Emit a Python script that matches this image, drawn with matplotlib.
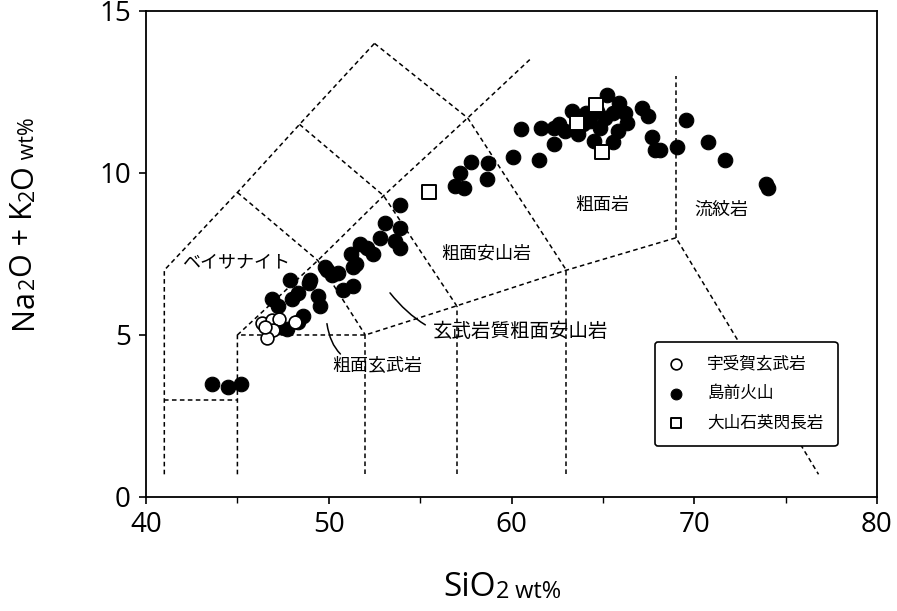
import matplotlib
matplotlib.use('Agg')
import matplotlib.pyplot as plt

plt.rcParams['font.family'] = ['Open Sans', 'Noto Sans CJK JP', 'DejaVu Sans']

# 島前火山 (filled circles)
shimazen_x = [43.6, 44.5, 45.2, 46.9, 47.2, 47.9, 48.0, 48.3, 48.9, 49.9, 50.5, 49.5,
              48.6, 47.7, 47.3, 48.3, 49.0, 49.4, 49.8, 50.2, 50.8, 51.3, 51.2, 51.3,
              51.5, 51.7, 52.1, 52.4, 52.8, 53.1, 53.9, 53.6, 53.9, 53.9, 56.9, 57.4,
              57.2, 57.8, 58.7, 58.65, 60.1, 61.5, 60.5, 61.6, 62.3, 62.3, 62.9, 65.2,
              65.9, 63.3, 64.1, 62.6, 65.1, 65.55, 66.2, 64.85, 64.5, 65.55, 65.8, 67.15,
              67.45, 67.7, 67.85, 68.1, 69.05, 69.55, 70.75, 71.7, 73.9, 74.05, 66.3, 64.3,
              63.65, 63.9, 64.7]
shimazen_y = [3.5, 3.4, 3.5, 6.1, 5.9, 6.7, 6.1, 6.3, 6.6, 7.0, 6.9, 5.9,
              5.6, 5.2, 5.25, 5.4, 6.7, 6.2, 7.1, 6.85, 6.4, 6.5, 7.5, 7.1,
              7.2, 7.8, 7.7, 7.5, 8.0, 8.45, 8.3, 7.9, 7.7, 9.0, 9.6, 9.55,
              10.0, 10.35, 10.3, 9.8, 10.5, 10.4, 11.35, 11.4, 11.4, 10.9, 11.3, 12.4,
              12.15, 11.9, 11.85, 11.5, 11.7, 11.85, 11.85, 11.4, 11.0, 10.95, 11.3, 12.0,
              11.75, 11.1, 10.7, 10.7, 10.8, 11.65, 10.95, 10.4, 9.65, 9.55, 11.55, 11.6,
              11.2, 11.5, 11.9]

# 宇受賀玄武岩 (open circles)
ukuka_x = [46.35, 46.9, 47.3, 48.15, 46.95, 46.6, 46.5]
ukuka_y = [5.37, 5.45, 5.5, 5.4, 5.15, 4.9, 5.25]

# 大山石英閃長岩 (open squares)
oyama_x = [55.5, 64.6, 63.6, 64.95]
oyama_y = [9.4, 12.1, 11.55, 10.65]

# TAS field boundaries
boundaries = [
    ([41, 41, 45, 48.4, 52.5], [0.7, 7, 9.4, 11.5, 14]),
    ([41, 45], [3, 3]),
    ([45, 45, 52, 57, 63, 69, 76.8], [0.7, 5, 5, 5.9, 7, 8, 0.7]),
    ([45, 49.4, 53, 57.6, 61], [5, 7.3, 9.3, 11.7, 13.5]),
    ([45, 49.4, 52], [9.4, 7.3, 5]),
    ([48.4, 53, 57], [11.5, 9.3, 5.9]),
    ([52.5, 57.6, 63], [14, 11.7, 7]),
    ([52, 52], [0.7, 5]),
    ([57, 57], [0.7, 5.9]),
    ([63, 63], [0.7, 7]),
    ([69, 69], [8, 13]),
]

field_names = ['ベイサナイト', '粗面安山岩', '粗面岩', '流紋岩']
field_x = [44.9, 58.6, 64.95, 71.5]
field_y = [7.25, 7.5, 9.0, 8.85]

fig = plt.figure(figsize=(8.97, 6.11), dpi=100)
ax = fig.add_axes([0.1628, 0.1866, 0.8149, 0.7954])

for bx, by in boundaries:
    ax.plot(bx, by, color='k', lw=1.1, ls=(0, (3, 2.2)), zorder=1)

ax.scatter(shimazen_x, shimazen_y, s=110, c='k', edgecolors='k', lw=0.8,
           zorder=3, label='島前火山')
ax.scatter(ukuka_x, ukuka_y, s=85, c='white', edgecolors='k', lw=1.2,
           zorder=4, label='宇受賀玄武岩')
ax.scatter(oyama_x, oyama_y, s=90, marker='s', c='white', edgecolors='k', lw=1.4,
           zorder=5, label='大山石英閃長岩')

jp = ['Noto Sans CJK JP', 'DejaVu Sans']
for name, tx, ty in zip(field_names, field_x, field_y):
    ax.text(tx, ty, name, family=jp, fontsize=13, ha='center', va='center')

ax.annotate('粗面玄武岩', xy=(49.9, 5.35), xytext=(50.2, 4.05), family=jp,
            fontsize=13, ha='left', va='center',
            arrowprops=dict(arrowstyle='-', color='k', lw=1.1,
                            connectionstyle='arc3,rad=-0.45', shrinkA=0, shrinkB=0))
ax.annotate('玄武岩質粗面安山岩', xy=(53.35, 6.3), xytext=(55.7, 5.1), family=jp,
            fontsize=14, ha='left', va='center',
            arrowprops=dict(arrowstyle='-', color='k', lw=1.1,
                            connectionstyle='arc3,rad=-0.35', shrinkA=4, shrinkB=0))

handles, labels = ax.get_legend_handles_labels()
order = [1, 0, 2]
leg = ax.legend([handles[i] for i in order], [labels[i] for i in order],
                loc='lower left', bbox_to_anchor=(0.696, 0.105), prop={'family': jp, 'size': 12},
                frameon=True, fancybox=True, edgecolor='k', framealpha=1,
                handlelength=0.8, handletextpad=1.5, borderpad=0.85, labelspacing=0.75,
                borderaxespad=0, scatterpoints=1)
leg.get_frame().set_linewidth(1.2)
for h in leg.legend_handles:
    h.set_sizes([60])

ax.set_xlim(40, 80)
ax.set_ylim(0, 15)
ax.set_xticks([40, 50, 60, 70, 80])
ax.set_xticks([45, 55, 65, 75], minor=True)
ax.set_yticks([0, 5, 10, 15])
ax.tick_params(axis='both', which='major', direction='out', length=5, width=1.2,
               labelsize=20, colors='k')
ax.tick_params(axis='x', which='minor', direction='out', length=4, width=1.0)
ax.tick_params(axis='x', pad=5)
ax.tick_params(axis='y', pad=6)
for sp in ax.spines.values():
    sp.set_linewidth(1.3)


def chain(first, pieces, rotation=0):
    # place text pieces one after another along the reading direction
    prev = first
    for txt, size in pieces:
        if rotation == 90:
            prev = ax.annotate(txt, xy=(1, 1), xycoords=prev, fontsize=size,
                               rotation=90, ha='right', va='bottom',
                               annotation_clip=False)
        else:
            prev = ax.annotate(txt, xy=(1, 0), xycoords=prev, fontsize=size,
                               ha='left', va='bottom', annotation_clip=False)


# x axis title: SiO2 wt%
xt = fig.text(0.494, 0.012, 'SiO', fontsize=24, ha='left', va='bottom')
chain(xt, [('2', 17), (' wt%', 17)])

# y axis title: Na2O + K2O wt%
yt = fig.text(0.044, 0.462, 'Na', fontsize=22, rotation=90, ha='right', va='bottom')
chain(yt, [('2', 15.5), ('O + K', 22), ('2', 15.5), ('O', 22), (' wt%', 15.5)], rotation=90)

fig.savefig('out.png', dpi=100)
